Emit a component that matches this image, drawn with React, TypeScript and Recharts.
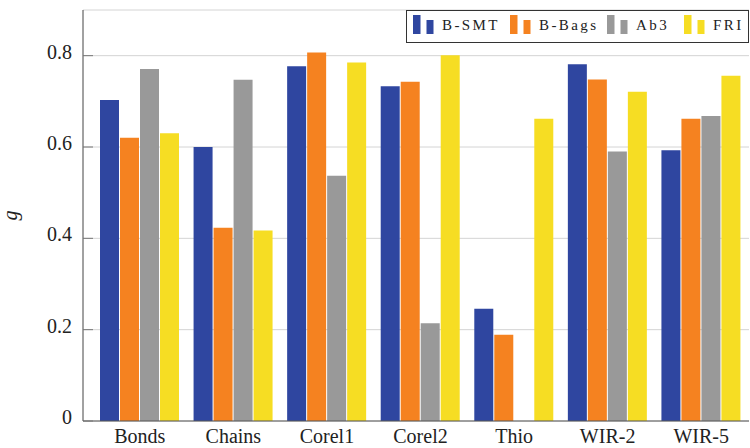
import { BarChart, Bar, XAxis, YAxis, CartesianGrid, Legend } from 'recharts'

const categories = ['Bonds', 'Chains', 'Corel1', 'Corel2', 'Thio', 'WIR-2', 'WIR-5']
const bSmt = [0.703, 0.600, 0.777, 0.733, 0.246, 0.781, 0.593]
const bBags = [0.620, 0.423, 0.807, 0.743, 0.189, 0.748, 0.662]
const ab3 = [0.771, 0.747, 0.537, 0.214, null, 0.590, 0.668]
const fri = [0.630, 0.417, 0.785, 0.801, 0.662, 0.721, 0.756]
const yTicks = [0, 0.2, 0.4, 0.6, 0.8]

const SERIES = [
  { name: 'B-SMT', values: bSmt, color: '#2f46a0' },
  { name: 'B-Bags', values: bBags, color: '#f58220' },
  { name: 'Ab3', values: ab3, color: '#999999' },
  { name: 'FRI', values: fri, color: '#f6dd23' },
]

// left offset of each legend entry inside the box
const LEGEND_X = [7, 104, 201, 278]

const data = categories.map((name, i) => {
  const row: Record<string, string | number | null> = { name }
  SERIES.forEach((s) => { row[s.name] = s.values[i] })
  return row
})

const FONT = '"Liberation Serif", "DejaVu Serif", serif'

function XTick({ x, y, payload }: any) {
  return (
    <text x={x} y={y} dy={22} textAnchor="middle" fontFamily={FONT} fontSize={20} fill="#222">
      {payload.value}
    </text>
  )
}

function YTick({ x, y, payload }: any) {
  const v = payload.value
  return (
    <text x={x} y={y} dy={3} textAnchor="end" fontFamily={FONT} fontSize={20} fill="#222">
      {v === 0 ? '0' : v.toFixed(1)}
    </text>
  )
}

function LegendBox() {
  return (
    <div style={{
      position: 'relative', boxSizing: 'border-box', width: 343, height: 33,
      border: '1px solid #333', background: '#fff', fontFamily: FONT,
    }}>
      {SERIES.map((s, i) => (
        <div key={s.name} style={{
          position: 'absolute', left: LEGEND_X[i] - 1, top: 4,
          display: 'flex', alignItems: 'flex-end', gap: 8, height: 19,
        }}>
          <svg width={21} height={19}>
            <rect x={0} y={0} width={7.5} height={19} fill={s.color} />
            <rect x={13.5} y={5} width={7} height={14} fill={s.color} />
          </svg>
          <span style={{ fontSize: 15, letterSpacing: 2.4, color: '#222', lineHeight: '15px', marginBottom: 1, whiteSpace: 'nowrap' }}>
            {s.name}
          </span>
        </div>
      ))}
    </div>
  )
}

export default function App() {
  return (
    <div style={{ position: 'absolute', left: 0, top: 0, background: '#fff' }}>
      <BarChart
        width={750}
        height={448}
        data={data}
        margin={{ top: 10, right: 1, bottom: 0, left: 0 }}
        barSize={19}
        barGap={1}
      >
        <CartesianGrid vertical={false} stroke="#d4d4d4" />
        <XAxis
          dataKey="name"
          height={27}
          padding={{ left: 10, right: 1 }}
          tickLine={false}
          tickSize={0}
          tickMargin={0}
          axisLine={{ stroke: '#555' }}
          tick={<XTick />}
          interval={0}
        />
        <XAxis xAxisId="top" orientation="top" height={0} tick={false} tickLine={false} axisLine={{ stroke: '#444' }} />
        <YAxis
          width={83}
          domain={[0, 0.9]}
          ticks={yTicks}
          tickSize={-10}
          tickMargin={21}
          tickLine={{ stroke: '#777' }}
          axisLine={{ stroke: '#444' }}
          tick={<YTick />}
          label={({ viewBox }: any) => (
            <text
              x={viewBox.x + 17}
              y={viewBox.y + viewBox.height / 2}
              transform={`rotate(-90 ${viewBox.x + 17} ${viewBox.y + viewBox.height / 2})`}
              textAnchor="middle"
              fontFamily={FONT}
              fontStyle="italic"
              fontSize={20}
              fill="#222"
            >
              g
            </text>
          )}
        />
        <YAxis
          yAxisId="right"
          orientation="right"
          width={0}
          domain={[0, 0.9]}
          ticks={yTicks}
          tickSize={-10}
          tickLine={{ stroke: '#777' }}
          axisLine={{ stroke: '#444' }}
          tick={() => <g />}
        />
        <Legend
          layout="horizontal"
          verticalAlign="middle"
          content={() => <LegendBox />}
          wrapperStyle={{ left: 406, top: 10, width: 343, height: 33 }}
        />
        {SERIES.map((s) => (
          <Bar key={s.name} dataKey={s.name} fill={s.color} isAnimationActive={false} />
        ))}
      </BarChart>
    </div>
  )
}
